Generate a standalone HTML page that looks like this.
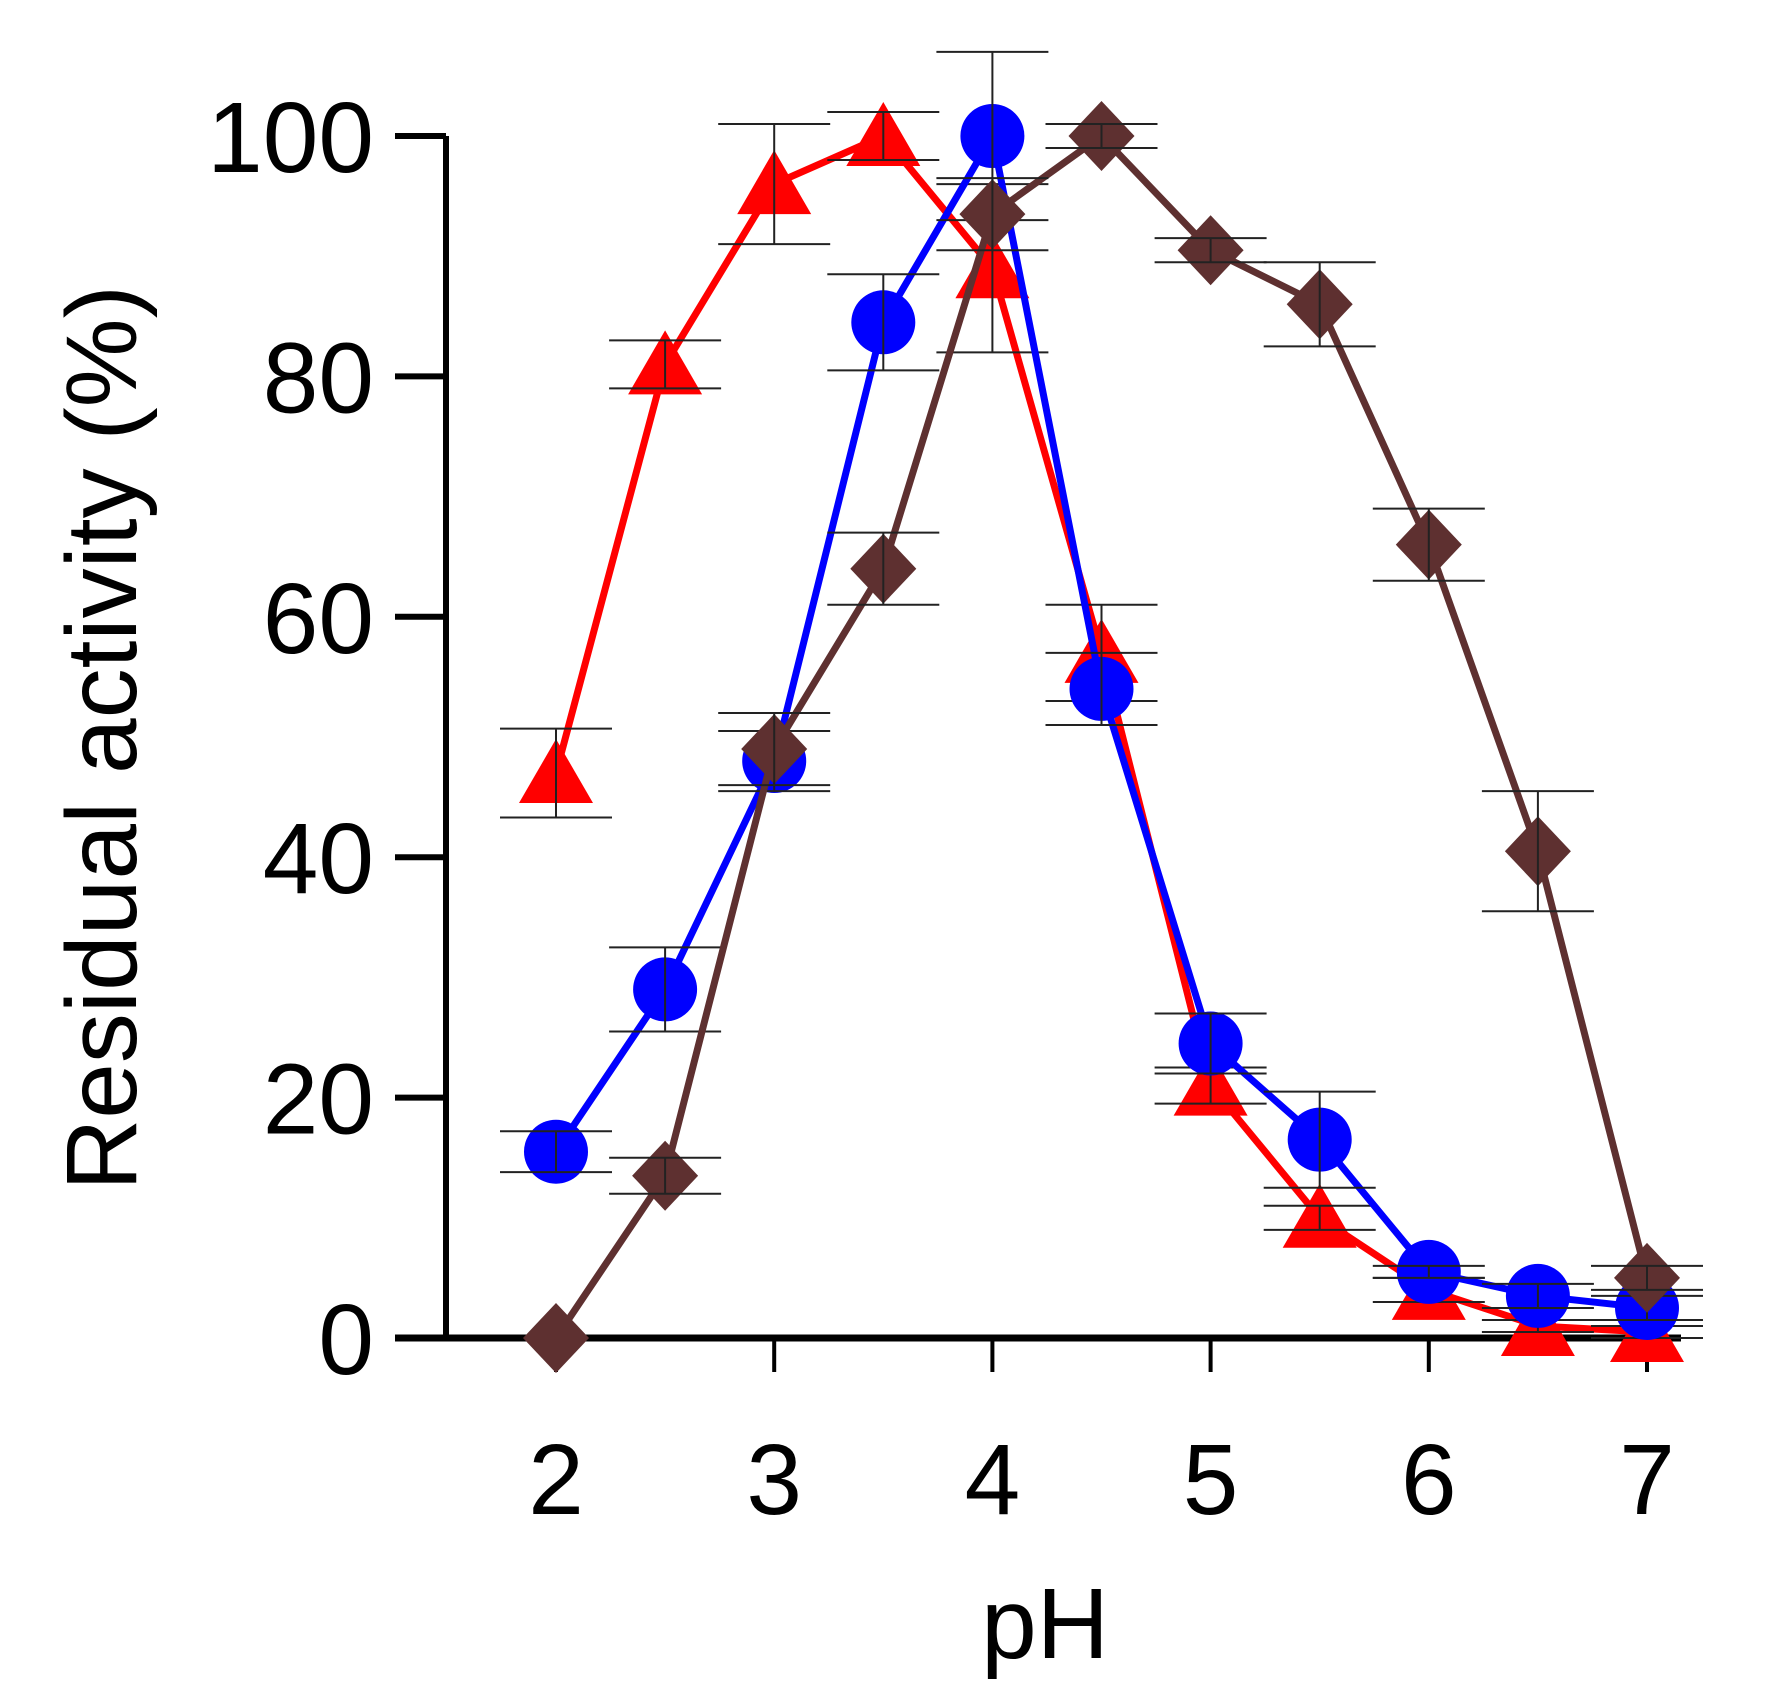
<!DOCTYPE html>
<html><head><meta charset="utf-8"><style>
html,body{margin:0;padding:0;background:#fff;}
svg{display:block;font-family:"Liberation Sans",Arial,sans-serif;}
</style></head><body>
<svg id="chart" width="1768" height="1704" viewBox="0 0 1768 1704" xmlns="http://www.w3.org/2000/svg">
<g id="axes"></g>
<g id="plot"></g>
<text x="1045" y="1658" font-size="100" text-anchor="middle">pH</text>
<text transform="translate(136,738) rotate(-90)" font-size="100" text-anchor="middle">Residual activity (%)</text>
</svg>
<script>
const phValues = [2, 2.5, 3, 3.5, 4, 4.5, 5, 5.5, 6, 6.5, 7];
const redValues = [47, 81, 96, 100, 89, 57, 21, 10, 4, 1, 0.5];
const redErrors = [3.7, 2, 5, 2, 7, 4, 1.5, 1, 1, 0.5, 0.5];
const blueValues = [15.5, 29, 48, 84.5, 100, 54, 24.5, 16.5, 5.5, 3.5, 2.5];
const blueErrors = [1.7, 3.5, 2.5, 4, 7, 3, 2.5, 4, 0.5, 1, 1];
const brownValues = [0, 13.5, 49, 64, 93.5, 100, 90.5, 86, 66, 40.5, 5];
const brownErrors = [0, 1.5, 3, 3, 3, 1, 1, 3.5, 3, 5, 1];
const xTicks = [2, 3, 4, 5, 6, 7];
const yTicks = [0, 20, 40, 60, 80, 100];

const NS = "http://www.w3.org/2000/svg";
function X(v){ return 556 + (v - 2) * 218.2; }
function Y(v){ return 1338 - v * 12.02; }
function mk(tag, attrs, parent){
  const e = document.createElementNS(NS, tag);
  for (const k in attrs) e.setAttribute(k, attrs[k]);
  parent.appendChild(e);
  return e;
}
const axes = document.getElementById('axes');
const plot = document.getElementById('plot');

let l = mk('line', {x1:446, y1:Y(100), x2:446, y2:1338, stroke:'#000', 'stroke-width':6}, axes);


l = mk('line', {x1:395, y1:1338, x2:1681, y2:1338, stroke:'#000', 'stroke-width':7}, axes);



yTicks.forEach(t => {
  const tk = mk('line', {x1:395, y1:Y(t), x2:446, y2:Y(t), stroke:'#000', 'stroke-width':6}, axes);
  
  
  const tx = mk('text', {x:374, y:Y(t)+36, 'font-size':100, 'text-anchor':'end'}, axes);
  tx.textContent = t;
  
  
});
xTicks.forEach(t => {
  const tk = mk('line', {x1:X(t), y1:1338, x2:X(t), y2:1372, stroke:'#000', 'stroke-width':4}, axes);
  
  
  const tx = mk('text', {x:X(t), y:1514, 'font-size':100, 'text-anchor':'middle'}, axes);
  tx.textContent = t;
  
  
});

function series(vals, errs, color, shape, name){
  const g = mk('g', {}, plot);
  
  
  const pts = phValues.map((p,i) => X(p) + ',' + Y(vals[i])).join(' ');
  const pl = mk('polyline', {points:pts, fill:'none', stroke:color, 'stroke-width':7, 'stroke-linejoin':'round'}, g);
  
  
  phValues.forEach((p,i) => {
    const cx = X(p), cy = Y(vals[i]);
    let m;
    if (shape === 'circle') m = mk('circle', {cx:cx, cy:cy, r:32, fill:color}, g);
    else if (shape === 'triangle') m = mk('polygon', {points:`${cx},${cy-34} ${cx+37},${cy+30} ${cx-37},${cy+30}`, fill:color}, g);
    else m = mk('polygon', {points:`${cx},${cy-35} ${cx+33},${cy} ${cx},${cy+35} ${cx-33},${cy}`, fill:color}, g);
    
    
  });
  phValues.forEach((p,i) => {
    const e = errs[i]; if (!e) return;
    const cx = X(p), t = Y(vals[i]+e), b = Y(vals[i]-e);
    const eg = mk('g', {stroke:'#222', 'stroke-width':2}, g);
    
    
    mk('line', {x1:cx, y1:t, x2:cx, y2:b}, eg);
    mk('line', {x1:cx-56, y1:t, x2:cx+56, y2:t}, eg);
    mk('line', {x1:cx-56, y1:b, x2:cx+56, y2:b}, eg);
  });
}
series(redValues, redErrors, '#ff0000', 'triangle', 'red');
series(blueValues, blueErrors, '#0000ff', 'circle', 'blue');
series(brownValues, brownErrors, '#5e3030', 'diamond', 'brown');
</script>
</body></html>
